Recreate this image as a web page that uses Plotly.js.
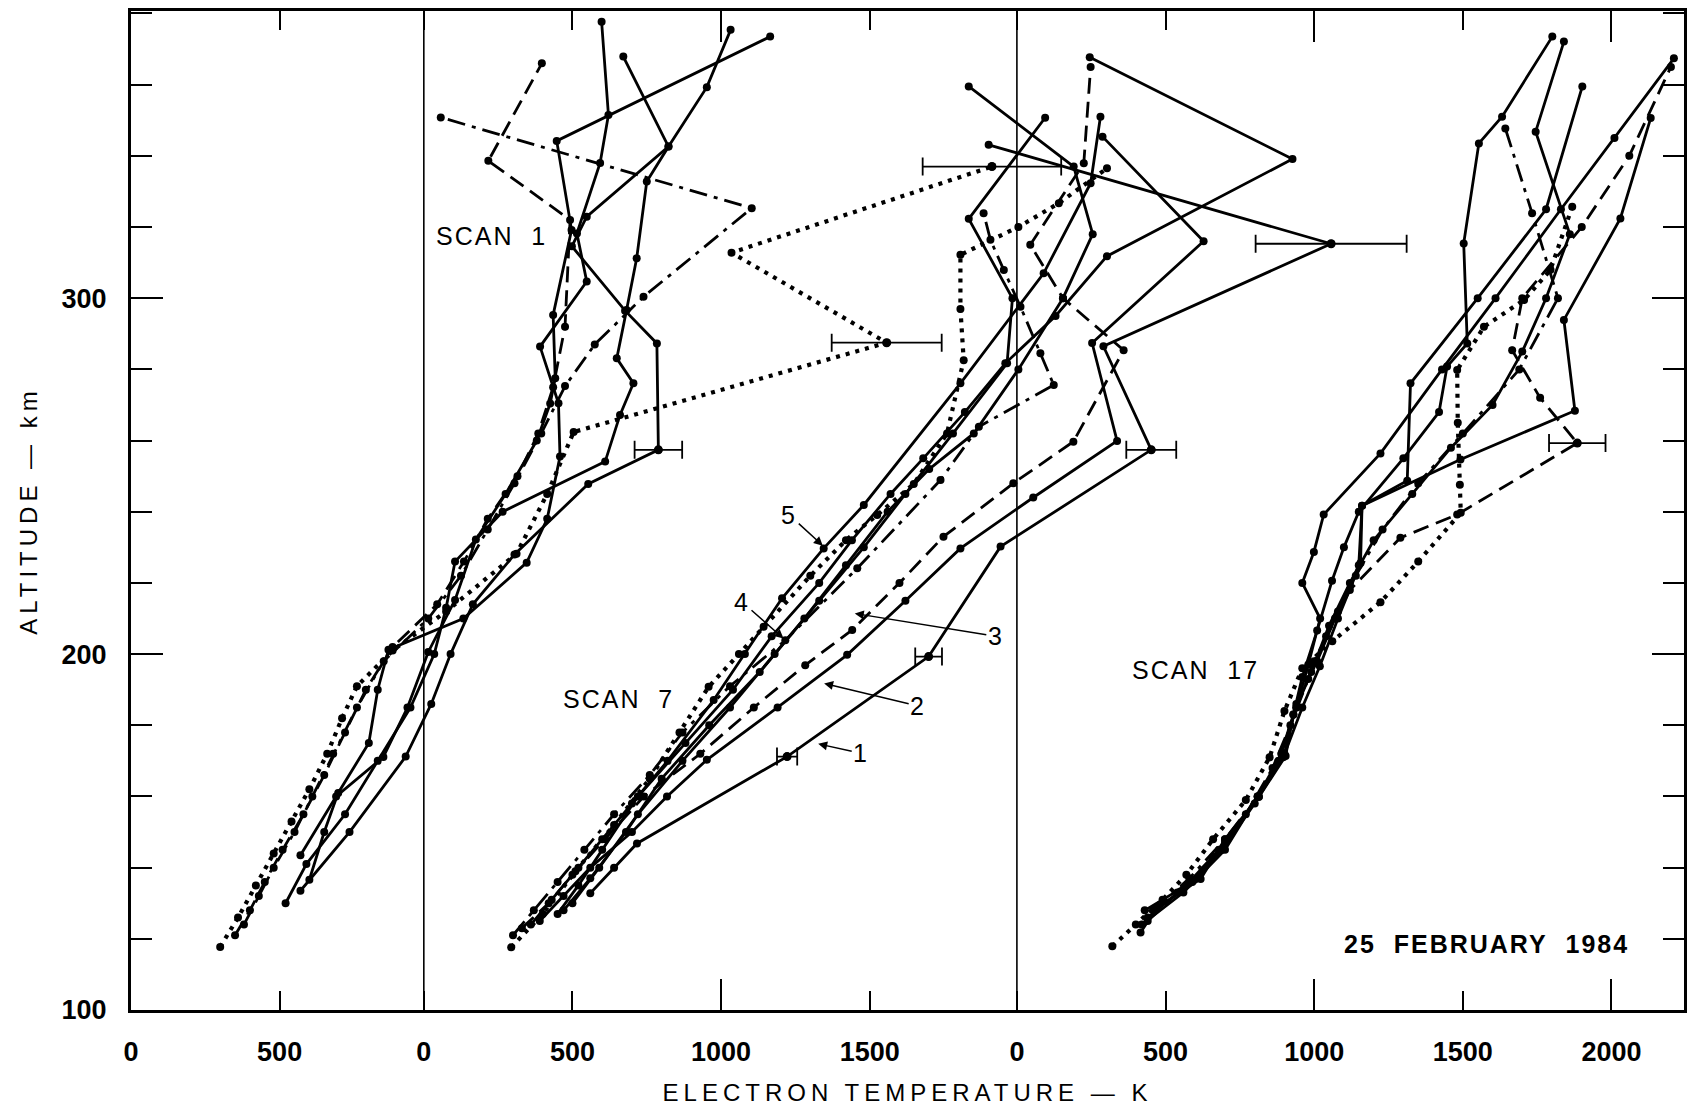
<!DOCTYPE html>
<html><head><meta charset="utf-8">
<script src="https://cdn.plot.ly/plotly-3.0.1.min.js"></script>
<style>
html,body{margin:0;padding:0;background:#fff;}
#chart{width:1694px;height:1116px;}
.xtitle,.ytitle{letter-spacing:5px;}
.annotation-text{letter-spacing:2px;}
</style></head><body><div id="chart"></div>
<script>
// Offsets of each scan's temperature origin on the shared axis (K)
const off1 = 0, off7 = 985, off17 = 2980;

// ---------- SCAN 1 (temperature K, altitude km) ----------
const s1_a_alt = [133.5,150,171.2,186,200,214,228,247.8,257.4,287.3,296.5,314.6,322.9,342.6,359.3,375.4];
const s1_a_T   = [570,735,924,1010,1075,1150,1290,1538,1774,1769,1662,1483,1533,1808,1937,2017];
const s1_b_alt = [143.5,160,171.1,185,200.6,215.2,232.2,245,260,270.4,277.5,295.3,319.2,344.2,373.5];
const s1_b_T   = [570,690,849,930,1000,1090,1160,1260,1365,1410,1427,1420,1482,1432,2150];
const s1_c_alt = [136.6,150,161,175,190,201.2,210,225.7,238,255.5,270.5,286.4,304.7,318.2,338,351.5,377.7];
const s1_c_T   = [600,650,697,800,830,866,1118,1331,1400,1443,1438,1376,1533,1500,1578,1606,1583];
const s1_d_alt = [130,141,155,170,185,200,213,226,240,254.1,267.2,276.1,283.1,296.7,311.2,332.8,342.6,367.9];
const s1_d_T   = [520,590,720,830,940,1020,1060,1090,1250,1595,1645,1690,1634,1667,1701,1735,1808,1656];
const s1_e_alt = [121,128,136,145,155,166,178,190,202,214,226,238,250,262,275,292,322,338.6,366];
const s1_e_T   = [350,400,450,510,580,650,720,790,880,1030,1120,1200,1300,1370,1420,1460,1477,1202,1382];
const s1_f_alt = [124,132,140,150,160,172,185,198,210,222,235,248,262,275.3,287,300.4,325.3,350.8];
const s1_f_T   = [380,430,480,550,610,680,760,850,1000,1110,1200,1290,1380,1460,1560,1724,2088,1042];
const s1_g_alt = [117.7,126,135,144,153,162,172,182,191,201,212,228.2,245,262.4,287.5,312.8,337];
const s1_g_T   = [300,360,420,480,540,600,660,710,760,880,1060,1297,1400,1489,2542,2020,2896];
const s1_err_alt = [257.4,287.5,337];
const s1_err_T   = [1774,2542,2896];
const s1_err     = [80,185,233];

// ---------- SCAN 7 ----------
const s7_1_alt = [132.8,140,146.8,171.2,199.3,230.2,257.4,286.5,315.3,343.1];
const s7_1_T   = [560,640,717,1222,1698,1940,2447,2286,3052,1900];
const s7_2_alt = [125,132,140,150,160,170.3,185,199.8,215,229.7,244,259.9,287.4,316,345.4];
const s7_2_T   = [390,470,560,700,818,952,1190,1424,1620,1805,2050,2332,2248,2623,2283];
const s7_3_alt = [123,130,138,148,160,172,185,196.9,206.8,220,233,248,259.7,285.4,300,315,337.9,365];
const s7_3_T   = [330,420,500,610,740,930,1110,1283,1441,1600,1748,1983,2185,2354,2150,2040,2220,2243];
const s7_4_alt = [121,128,136,145,155,166,178,191,203.9,224.1,248.9,263.9,275.6,284.5,297.6,307.9,316.4,323.9];
const s7_4_T   = [300,370,450,540,640,760,870,1030,1216,1458,1738,1867,2119,2074,2007,1951,1906,1883];
const s7_5_alt = [124,131,139,148,158,170,187.1,200,215.7,229.7,241.9,276.1,307,332.3,351];
const s7_5_T   = [360,430,510,600,700,820,975,1080,1205,1345,1480,1805,2085,2243,2276];
const s7_6_alt = [127,135,145,160,175,190,205,220,232,245,255,268,281.7,295,311.8,339.1,367.7];
const s7_6_T   = [450,520,600,720,880,1040,1170,1330,1440,1570,1680,1820,1956,2125,2298,2922,2240];
const s7_7_alt = [128,137,150,165,180,195,210,225,240,252,262,280,300,318,337,359.5];
const s7_7_T   = [470,560,680,800,960,1130,1280,1420,1560,1700,1850,2000,2150,2250,2186,1833];
const s7_8_alt = [130,140,155,170,185,200,215,230,245,262,281.7,300,322.3,350.7];
const s7_8_T   = [500,590,720,870,1030,1180,1330,1480,1620,1780,1962,1980,1833,2090];
const s7_dot_alt = [117.6,127,140,152,165,178,190.8,200,207.7,222,232,239.1,247.8,262,282.6,297,312.2,320,326.7,336.5];
const s7_dot_T   = [294,400,520,640,760,860,958,1060,1143,1300,1420,1525,1648,1760,1816,1805,1805,2000,2136,2298];
const s7_err_alt = [171.2,199.3,257.4,315.3];
const s7_err_T   = [1222,1698,2447,3052];
const s7_err     = [34,45,84,254];

// ---------- SCAN 17 ----------
const s17_A_alt = [121.8,128.7,136.8,148,159.9,171.4,183,193.6,206.6,220.6,230,240,255,268,280.8,287.3,315.4,343.5,351,373.5];
const s17_A_T   = [416,470,618,700,814,904,930,960,1010,1060,1100,1150,1300,1420,1447,1515,1503,1554,1632,1801];
const s17_B_alt = [133.3,145,159.9,171,185,196.6,210,225.6,241.7,248.7,276.1,300,325,359.5];
const s17_B_T   = [550,680,814,896,960,1019,1080,1156,1161,1313,1324,1550,1780,1902];
const s17_C_alt = [124,133,145,160,172,185,197,210,220,228.7,239.2,256.4,280,300,325,345,367.4];
const s17_C_T   = [420,560,700,810,890,940,980,1020,960,999,1032,1223,1430,1610,1830,2010,2210];
const s17_D_alt = [128,136,147,160,172,186,198,212,225,241.7,254.7,268.4,293.9,322.4,350.6];
const s17_D_T   = [430,590,700,810,900,940,1010,1080,1150,1161,1492,1877,1840,2030,2132];
const s17_E_alt = [126,134,145,158,170,183,195,208,220,232,245,258,270,285,300,318,346.8,372.1];
const s17_E_T   = [440,560,690,800,880,930,990,1050,1120,1200,1330,1460,1600,1700,1780,1860,1745,1840];
const s17_F_alt = [125,133,143,155,168,180,193,205,218,232.7,239.2,259.3,272,285.4,300,320,340,365];
const s17_F_T   = [440,540,660,770,860,920,980,1040,1120,1290,1481,1885,1760,1666,1700,1900,2060,2200];
const s17_G_alt = [128,137,148,160,172,185,198,210,222,235,248,262,280,300,323.9,347.7];
const s17_G_T   = [460,580,700,810,890,940,1000,1070,1140,1230,1350,1500,1690,1820,1733,1643];
const s17_dot_alt = [117.9,124,131,138,148,159,171,184,196,203.6,214.6,226,239.7,247.6,265,279.8,292,299.5,308,325.7];
const s17_dot_T   = [321,400,490,570,660,770,850,900,960,1061,1223,1350,1493,1490,1483,1481,1571,1706,1795,1868];
const s17_err_alt = [259.3];
const s17_err_T   = [1885];
const s17_err     = [95];

// ---------- tick labels ----------
const ticks_scan1 = [0,500];
const ticks_scan7 = [0,500,1000,1500];
const ticks_scan17 = [0,500,1000,1500,2000];
const yTickVals = [100,200,300];

// ---------- build ----------
const SOLID='solid', DASH='16px,8px', DASHDOT='18px,7px,4px,7px', DOT='4px,6px';
const traces = [];
function prof(T, alt, off, dash){
  traces.push({type:'scatter', mode:'lines+markers', x:T.map(t=>t+off), y:alt,
    line:{color:'#000', width: dash===DOT?4.2:2.8, dash:dash},
    marker:{color:'#000', size:8}, hoverinfo:'skip', showlegend:false, cliponaxis:false});
}
function errs(T, alt, e, off){
  traces.push({type:'scatter', mode:'markers', x:T.map(t=>t+off), y:alt,
    marker:{color:'#000', size:9},
    error_x:{type:'data', array:e, symmetric:true, color:'#000', thickness:1.8, width:9, visible:true},
    hoverinfo:'skip', showlegend:false});
}
prof(s1_a_T,s1_a_alt,off1,SOLID); prof(s1_b_T,s1_b_alt,off1,SOLID);
prof(s1_c_T,s1_c_alt,off1,SOLID); prof(s1_d_T,s1_d_alt,off1,SOLID);
prof(s1_e_T,s1_e_alt,off1,DASH); prof(s1_f_T,s1_f_alt,off1,DASHDOT);
prof(s1_g_T,s1_g_alt,off1,DOT); errs(s1_err_T,s1_err_alt,s1_err,off1);

prof(s7_1_T,s7_1_alt,off7,SOLID); prof(s7_2_T,s7_2_alt,off7,SOLID);
prof(s7_3_T,s7_3_alt,off7,DASH); prof(s7_4_T,s7_4_alt,off7,DASHDOT);
prof(s7_5_T,s7_5_alt,off7,SOLID); prof(s7_6_T,s7_6_alt,off7,SOLID);
prof(s7_7_T,s7_7_alt,off7,SOLID); prof(s7_8_T,s7_8_alt,off7,SOLID);
prof(s7_dot_T,s7_dot_alt,off7,DOT); errs(s7_err_T,s7_err_alt,s7_err,off7);

prof(s17_A_T,s17_A_alt,off17,SOLID); prof(s17_B_T,s17_B_alt,off17,SOLID);
prof(s17_C_T,s17_C_alt,off17,SOLID); prof(s17_D_T,s17_D_alt,off17,SOLID);
prof(s17_E_T,s17_E_alt,off17,SOLID); prof(s17_F_T,s17_F_alt,off17,DASH);
prof(s17_G_T,s17_G_alt,off17,DASHDOT); prof(s17_dot_T,s17_dot_alt,off17,DOT);
errs(s17_err_T,s17_err_alt,s17_err,off17);

// empty trace to activate the overlay axes
traces.push({type:'scatter', x:[], y:[], xaxis:'x2', yaxis:'y2', showlegend:false});

const tickVals = [...ticks_scan1.map(t=>t+off1), ...ticks_scan7.map(t=>t+off7), ...ticks_scan17.map(t=>t+off17)];
const tickText = [...ticks_scan1, ...ticks_scan7, ...ticks_scan17].map(String);
const longTicks = [...ticks_scan7.filter(t=>t>0 && t%1000===0).map(t=>t+off7), ...ticks_scan17.filter(t=>t>0 && t%1000===0).map(t=>t+off17)];

const FONT = 'Liberation Sans, Arial, Helvetica, sans-serif';
const XR = [0, 5224], YR = [100, 380.7];

const layout = {
  width:1694, height:1116,
  margin:{l:131, r:10, t:11, b:106},
  paper_bgcolor:'#fff', plot_bgcolor:'#fff',
  showlegend:false,
  xaxis:{range:XR, tickmode:'array', tickvals:tickVals, ticktext:tickText,
    ticks:'inside', ticklen:19, tickwidth:2, tickcolor:'#000',
    showline:true, linewidth:3, linecolor:'#000', mirror:'ticks',
    showgrid:false, zeroline:false, ticklabelstandoff:16,
    tickfont:{family:FONT, size:27, color:'#000', weight:'bold'},
    title:{text:'ELECTRON TEMPERATURE — K', font:{family:FONT, size:24, color:'#000'}, standoff:18}},
  xaxis2:{range:XR, overlaying:'x', anchor:'y2', side:'bottom', tickmode:'array', tickvals:longTicks,
    ticks:'inside', ticklen:31, tickwidth:2, tickcolor:'#000', showticklabels:false,
    showline:false, mirror:'ticks', showgrid:false, zeroline:false},
  yaxis:{range:YR, tickmode:'array', tickvals:yTickVals,
    ticks:'inside', ticklen:32, tickwidth:2, tickcolor:'#000',
    minor:{tickmode:'linear', tick0:100, dtick:20, ticks:'inside', ticklen:21, tickwidth:2, tickcolor:'#000', showgrid:false},
    showline:true, linewidth:3, linecolor:'#000', mirror:'ticks',
    showgrid:false, zeroline:false, ticklabelstandoff:16,
    tickfont:{family:FONT, size:27, color:'#000', weight:'bold'},
    title:{text:'ALTITUDE — km', font:{family:FONT, size:24, color:'#000'}, standoff:18}},
  yaxis2:{range:YR, overlaying:'y', anchor:'x2', side:'right', showticklabels:false,
    showgrid:false, zeroline:false, showline:false, ticks:''},
  shapes:[
    {type:'line', xref:'x', yref:'paper', x0:off7, x1:off7, y0:0, y1:1, line:{color:'#000', width:1.6}, layer:'below'},
    {type:'line', xref:'x', yref:'paper', x0:off17, x1:off17, y0:0, y1:1, line:{color:'#000', width:1.6}, layer:'below'}
  ],
  annotations:[
    {x:1211, y:317.6, xref:'x', yref:'y', text:'SCAN\u00a0\u00a01', showarrow:false, font:{family:FONT, size:25, color:'#000'}},
    {x:1639, y:187.4, xref:'x', yref:'y', text:'SCAN\u00a0\u00a07', showarrow:false, font:{family:FONT, size:25, color:'#000'}},
    {x:3580, y:195.5, xref:'x', yref:'y', text:'SCAN\u00a0\u00a017', showarrow:false, font:{family:FONT, size:25, color:'#000'}},
    {x:4561, y:118.5, xref:'x', yref:'y', text:'25\u00a0\u00a0FEBRUARY\u00a0\u00a01984', showarrow:false, font:{family:FONT, size:25, color:'#000', weight:'bold'}},
    {x:2332, y:230.1, xref:'x', yref:'y', text:'5', showarrow:true, ax:-35, ay:-32, arrowhead:2, arrowsize:1.2, arrowwidth:1.5, arrowcolor:'#000', standoff:2, font:{family:FONT, size:25, color:'#000'}},
    {x:2200, y:204, xref:'x', yref:'y', text:'4', showarrow:true, ax:-43, ay:-38, arrowhead:2, arrowsize:1.2, arrowwidth:1.5, arrowcolor:'#000', standoff:2, font:{family:FONT, size:25, color:'#000'}},
    {x:2428, y:211.5, xref:'x', yref:'y', text:'3', showarrow:true, ax:143, ay:23, arrowhead:2, arrowsize:1.2, arrowwidth:1.5, arrowcolor:'#000', standoff:2, font:{family:FONT, size:25, color:'#000'}},
    {x:2325, y:191.9, xref:'x', yref:'y', text:'2', showarrow:true, ax:96, ay:23, arrowhead:2, arrowsize:1.2, arrowwidth:1.5, arrowcolor:'#000', standoff:2, font:{family:FONT, size:25, color:'#000'}},
    {x:2305, y:174.9, xref:'x', yref:'y', text:'1', showarrow:true, ax:45, ay:10, arrowhead:2, arrowsize:1.2, arrowwidth:1.5, arrowcolor:'#000', standoff:2, font:{family:FONT, size:25, color:'#000'}}
  ]
};

Plotly.newPlot('chart', traces, layout, {staticPlot:true, displayModeBar:false});
</script></body></html>
